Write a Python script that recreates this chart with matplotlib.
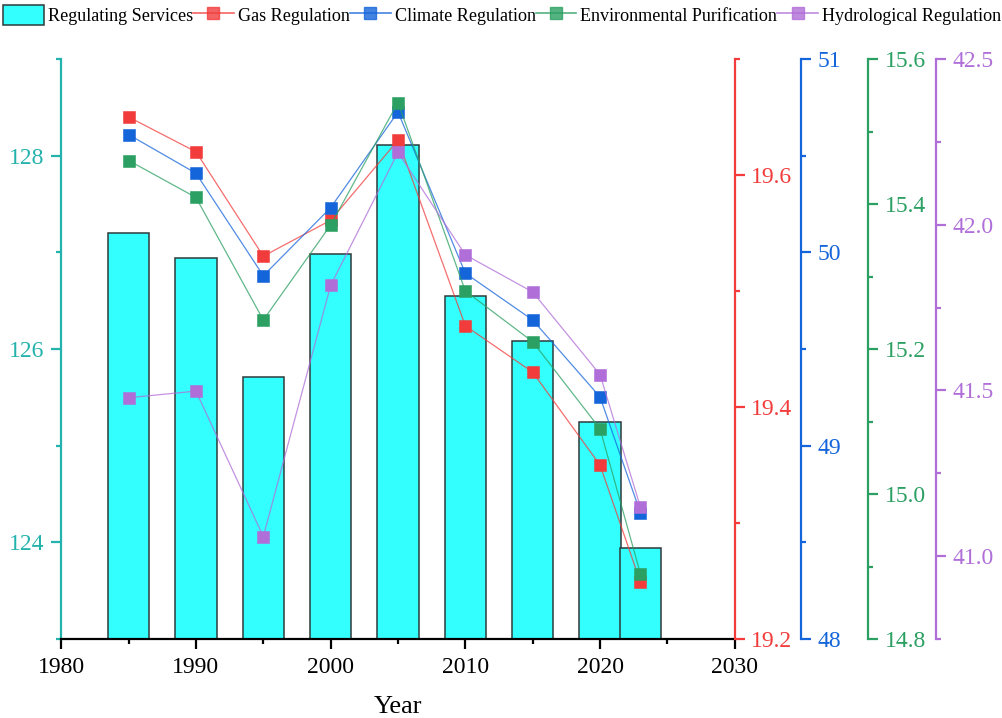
import matplotlib.pyplot as plt
from matplotlib.ticker import MultipleLocator, FormatStrFormatter
from matplotlib.patches import Patch
from matplotlib.lines import Line2D

plt.rcParams['font.family'] = ['Liberation Serif', 'DejaVu Serif']

# data
years = [1985, 1990, 1995, 2000, 2005, 2010, 2015, 2020, 2023]
regulating = [127.20, 126.94, 125.71, 126.98, 128.11, 126.55, 126.08, 125.24, 123.94]
gas = [19.650, 19.620, 19.530, 19.561, 19.630, 19.470, 19.430, 19.350, 19.249]
climate = [50.609, 50.409, 49.879, 50.231, 50.726, 49.892, 49.650, 49.252, 48.653]
environ = [15.460, 15.409, 15.240, 15.371, 15.540, 15.280, 15.210, 15.090, 14.890]
hydro = [41.478, 41.498, 41.059, 41.817, 42.218, 41.909, 41.797, 41.548, 41.148]

teal = '#24B2AC'
red = '#F23C3C'
blue = '#1565DA'
green = '#2BA062'
purple = '#B06ED8'

fig = plt.figure(figsize=(10.02, 7.18), dpi=100)
ax = fig.add_axes([61.3 / 1002, 79 / 718, 673.4 / 1002, 580 / 718])

ax.bar(years, regulating, width=3.07, color='#33FFFF', edgecolor='#2F3A3A', linewidth=1.1)
ax.set_xlim(1980, 2030)
ax.set_ylim(123, 129)
ax.xaxis.set_major_locator(MultipleLocator(10))
ax.xaxis.set_minor_locator(MultipleLocator(5))
ax.yaxis.set_major_locator(MultipleLocator(2))
ax.yaxis.set_minor_locator(MultipleLocator(1))
ax.set_xlabel('Year', fontsize=19, labelpad=13)

ax.spines['top'].set_visible(False)
ax.spines['right'].set_visible(False)
ax.spines['left'].set_color(teal)
ax.spines['left'].set_linewidth(1.6)
ax.spines['bottom'].set_color('black')
ax.spines['bottom'].set_linewidth(1.6)
ax.tick_params(axis='y', which='both', colors=teal, direction='out', width=1.6, labelsize=17, pad=5)
ax.tick_params(axis='y', which='major', length=7)
ax.tick_params(axis='y', which='minor', length=3.5)
ax.tick_params(axis='x', which='both', colors='black', direction='out', width=1.6, labelsize=17, pad=6)
ax.tick_params(axis='x', which='major', length=7)
ax.tick_params(axis='x', which='minor', length=3.5)

# four right-hand axes
specs = [
    (gas, red, (19.2, 19.7), 0.2, 0.1, '%.1f', 1.0),
    (climate, blue, (48, 51), 1, 0.5, '%d', 1.0985),
    (environ, green, (14.8, 15.6), 0.2, 0.1, '%.1f', 1.198),
    (hydro, purple, (40.75, 42.5), 0.5, 0.25, '%.1f', 1.2985),
]
twins = []
for vals, col, lim, major, minor, fmt, pos in specs:
    tw = ax.twinx()
    tw.spines['right'].set_position(('axes', pos))
    for s in ['top', 'left', 'bottom']:
        tw.spines[s].set_visible(False)
    tw.spines['right'].set_color(col)
    tw.spines['right'].set_linewidth(1.6)
    tw.set_ylim(*lim)
    tw.yaxis.set_major_locator(MultipleLocator(major))
    tw.yaxis.set_minor_locator(MultipleLocator(minor))
    tw.yaxis.set_major_formatter(FormatStrFormatter(fmt))
    tw.tick_params(axis='y', which='both', colors=col, direction='out', width=1.6, labelsize=17, pad=5)
    tw.tick_params(axis='y', which='major', length=7)
    tw.tick_params(axis='y', which='minor', length=3.5)
    tw.plot(years, vals, color=col, alpha=0.75, linewidth=0.9, zorder=2)
    tw.plot(years, vals, linestyle='none', marker='s', markersize=8.5,
            markerfacecolor=col, markeredgecolor=col, markeredgewidth=0.4, zorder=3)
    twins.append(tw)

# legend along the top
handles = [Patch(facecolor='#33FFFF', edgecolor='#2F3A3A', linewidth=1.1)]
for vals, col, *_ in specs:
    handles.append(Line2D([], [], color=col, alpha=0.8, linewidth=1.2, marker='s', markersize=9,
                          markerfacecolor=col, markeredgecolor=col))
labels = ['Regulating Services', 'Gas Regulation', 'Climate Regulation',
          'Environmental Purification', 'Hydrological Regulation']
fig.legend(handles, labels, loc='upper left', bbox_to_anchor=(0.0, 0.997), ncol=5,
           frameon=False, fontsize=13.1, handlelength=2.25, handleheight=1.3,
           handletextpad=0.22, columnspacing=0.0, borderaxespad=0.1, borderpad=0.05)

fig.savefig('out.png', dpi=100)
